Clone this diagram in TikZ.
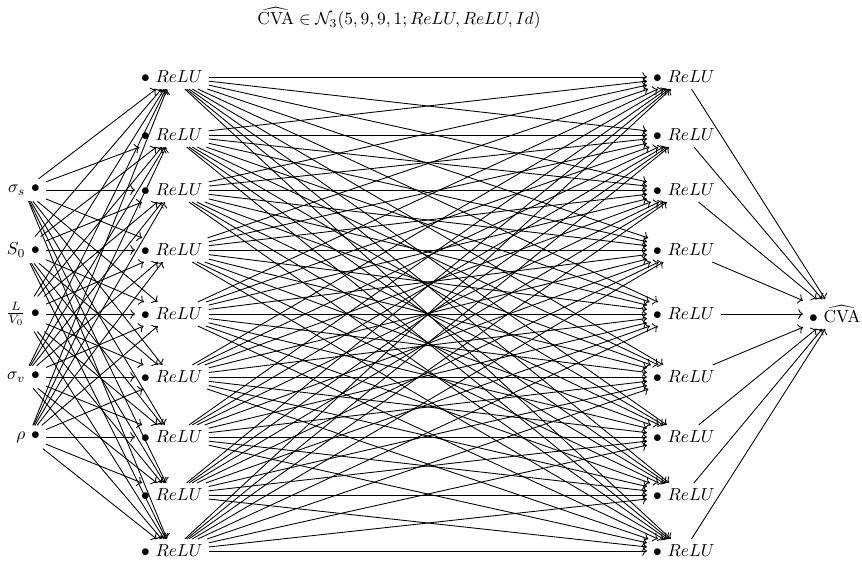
\documentclass[tikz,border=0pt]{standalone}
\usepackage{tikz}
\usetikzlibrary{positioning,arrows.meta,calc}
\usepackage{amsmath}
\usepackage{xcolor}

\tikzset{
  neurona/.style={inner sep=3.3pt},
  flecha/.style={->, line width=0.5pt}
}

\begin{document}
\begin{tikzpicture}[x=0.0202cm, y=-0.0202cm]
        \useasboundingbox (0,0) rectangle (862,562);
        \node (titulo) at (399,18) {$\widehat{\mathrm{CVA}} \in \mathcal{N}_3(5,9,9,1; ReLU, ReLU, Id)$};
        % capa de entrada
        \foreach \i/\y/\t in {1/190/\sigma_s, 2/250/S_0, 3/314/\frac{L}{V_0}, 4/377/\sigma_v, 5/437/\rho} {
          \node[neurona, anchor=east] (e\i) at (46,\y) {$\t\ \bullet$};
        }
        % capas ocultas
        \foreach \j/\y in {1/77, 2/135, 3/190, 4/250, 5/314, 6/377, 7/437, 8/495, 9/551} {
          \node[neurona, anchor=west] (a\j) at (135,\y) {$\bullet\ ReLU$};
          \node[neurona, anchor=west] (b\j) at (647,\y) {$\bullet\ ReLU$};
        }
        % salida
        \node[neurona, anchor=west] (s) at (803,314) {$\bullet\ \widehat{\mathrm{CVA}}$};
        \foreach \i in {1,...,5}
          \foreach \j in {1,...,9}
            \draw[flecha] (e\i) -- (a\j);
        \foreach \i in {1,...,9}
          \foreach \j in {1,...,9}
            \draw[flecha] (a\i) -- (b\j);
        \foreach \j in {1,...,9}
          \draw[flecha] (b\j) -- (s);
      \end{tikzpicture}
\end{document}
